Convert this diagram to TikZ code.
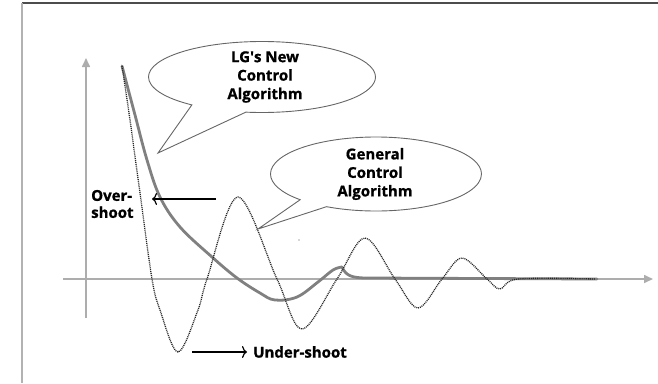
\documentclass[tikz,border=0pt]{standalone}
\usepackage{fontspec}
\setmainfont{Open Sans}
\newfontfamily\sayfont{Open Sans}[FakeBold=0.9]
\usetikzlibrary{shapes.callouts,arrows.meta}

\begin{document}
\begin{tikzpicture}[x=1pt,y=-1pt,
    bubble/.style={ellipse callout,draw=black!60,line width=0.9pt,inner sep=0pt},
    say/.style={align=center,font=\sayfont\bfseries\fontsize{15}{18.5}\selectfont,inner sep=0pt},
    axis/.style={draw=black!32,line width=1.6pt,-{Triangle[length=9pt,width=8pt]}},
    pointer/.style={line width=1.2pt,-{To[length=5pt,width=12pt]}},
    lgline/.style={draw=black!50,line width=2.8pt,line cap=round},
    oldline/.style={draw=black!85,line width=1.3pt,dash pattern=on 1pt off 0.9pt}]
    \useasboundingbox (0,0) rectangle (658,383);
    % slide frame, only top and left are visible
    \draw[black!70,line width=1.5pt] (22,3) -- (658,3);
    \draw[black!30,line width=2pt] (22,3) -- (22,383);
    % axes
    \draw[axis] (86,318) -- (86,58);
    \draw[axis] (63,279) -- (653,279);
    % the new algorithm: decays with a small over-shoot, then flat
    \draw[lgline] plot[smooth,tension=0.6] coordinates {(122,66) (135,115) (147,160) (160,197) (180,227) (212,257) (237,278) (260,293) (275,300) (297,297) (318,282) (333,270) (342,267)};
    \draw[lgline] (342,267) .. controls (346,276) and (352,278) .. (368,278) -- (597,279);
    % the general algorithm rings around the axis
    \draw[oldline] plot[smooth,tension=0.55] coordinates {(122,66) (130,120) (140,193) (152,279) (160,310) (178,352) (198,310) (207,279) (238,197) (277,279) (302,329) (337,279) (365,238) (395,279) (418,308) (442,279) (462,258) (487,279) (500,289) (518,279) (595,279)};
    \fill[black!70] (299,240) circle (0.7);
    % speech bubbles
    \node[bubble,minimum width=227,minimum height=71,callout absolute pointer={(158,153)},callout pointer arc=30] (lg) at (262,77) {};
    \node[say] (lg text) at (265,77) {LG\textquotesingle s New\\Control\\Algorithm};
    \node[bubble,minimum width=211,minimum height=74,callout absolute pointer={(258,229)},callout pointer arc=18] (gen) at (376,174) {};
    \node[say] (gen text) at (375,174) {General\\Control\\Algorithm};
    % over- and under-shoot labels
    \node[say,align=left,anchor=west,font=\sayfont\bfseries\fontsize{15}{17}\selectfont] (over) at (91,204) {Over-\\shoot};
    \coordinate (over from) at (216,199);
    \coordinate (over to) at (152,199);
    \draw[pointer] (over from) -- (over to);
    \node[say,anchor=west,inner xsep=6pt] (under) at (247,352) {Under-shoot};
    \coordinate (under from) at (192,352);
    \draw[pointer] (under from) -- (under.west);
\end{tikzpicture}
\end{document}
